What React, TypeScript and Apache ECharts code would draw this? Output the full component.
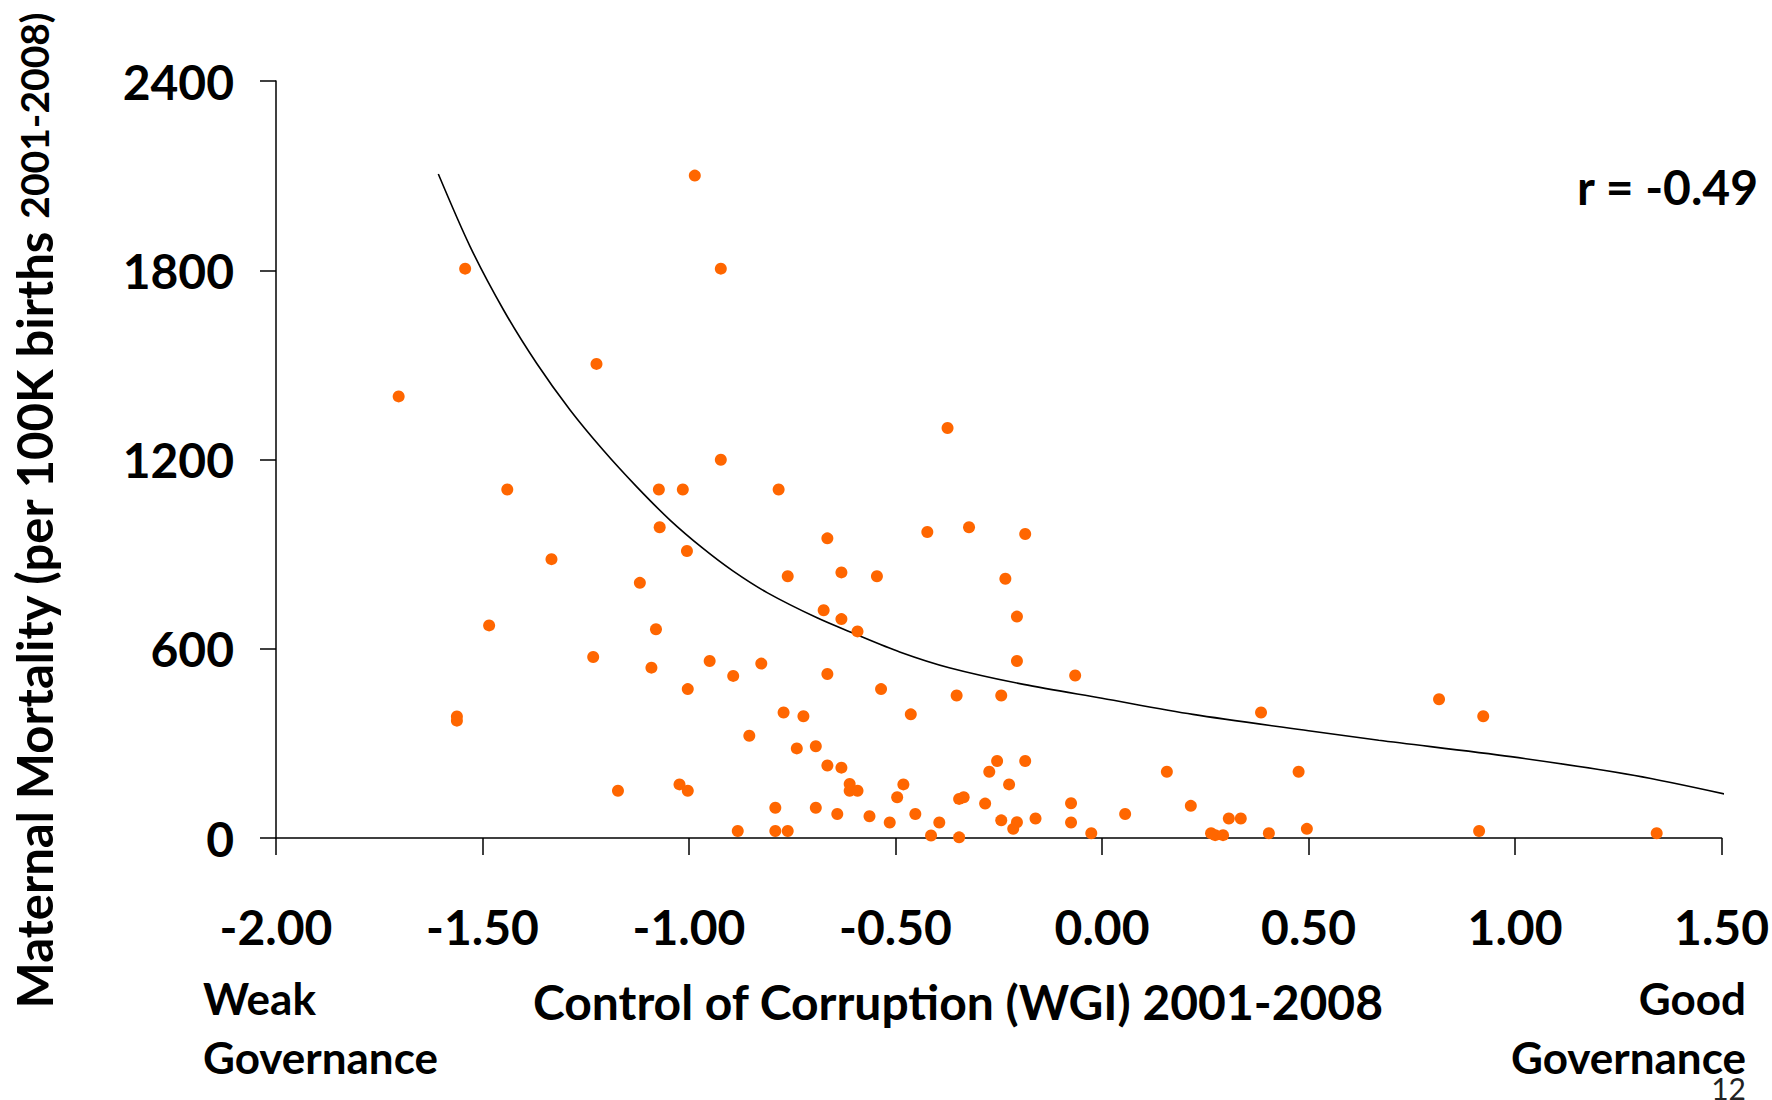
import React, { useEffect, useRef } from 'react';
import * as echarts from 'echarts';

// Control of Corruption (WGI) 2001-2008
const wgi = [
  -1.703, -1.542, -1.562, -1.562, -1.484, -1.44, -1.333, -1.224, -1.232, -1.172,
  -1.119, -1.091, -1.08, -1.073, -1.071, -1.023, -1.015, -1.003, -1.005, -1.003,
  -0.986, -0.95, -0.923, -0.923, -0.893, -0.882, -0.854, -0.825, -0.791, -0.791,
  -0.783, -0.771, -0.761, -0.761, -0.739, -0.723, -0.693, -0.693, -0.674, -0.665,
  -0.665, -0.665, -0.641, -0.631, -0.631, -0.631, -0.611, -0.611, -0.592, -0.592,
  -0.563, -0.545, -0.535, -0.514, -0.496, -0.481, -0.463, -0.452, -0.423, -0.414,
  -0.394, -0.374, -0.352, -0.346, -0.346, -0.335, -0.322, -0.283, -0.273, -0.254,
  -0.244, -0.244, -0.234, -0.225, -0.215, -0.206, -0.206, -0.206, -0.186, -0.186,
  -0.161, -0.075, -0.075, -0.065, -0.026, 0.056, 0.157, 0.215, 0.264, 0.274,
  0.293, 0.307, 0.336, 0.385, 0.404, 0.476, 0.496, 0.816, 0.923, 0.913, 1.343,
];
// Maternal mortality per 100K births 2001-2008
const mortality = [
  1400, 1805, 385, 372, 674, 1105, 884, 1503, 574, 150,
  809, 540, 662, 1105, 985, 170, 1105, 150, 910, 472,
  2100, 561, 1805, 1199, 514, 22, 324, 553, 96, 22,
  1105, 398, 830, 22, 284, 386, 291, 96, 722, 950,
  520, 230, 76, 842, 694, 223, 171, 150, 655, 150,
  69, 830, 472, 49, 129, 170, 392, 76, 970, 8,
  49, 1300, 452, 2, 124, 129, 985, 109, 210, 244,
  452, 56, 822, 170, 29, 50, 702, 561, 964, 244,
  62, 110, 49, 515, 15, 76, 210, 102, 15, 9,
  9, 62, 62, 398, 15, 210, 29, 440, 386, 22, 15,
];
// Fitted trend curve
const trendX = [-1.607, -1.53, -1.449, -1.369, -1.288, -1.208, -1.127, -1.046, -0.966, -0.893, -0.811, -0.69, -0.6, -0.49, -0.37, -0.19, 0.0, 0.22, 0.5, 0.67, 0.99, 1.29, 1.54];
const trendY = [2105, 1875, 1674, 1505, 1357, 1230, 1114, 1008, 918, 846, 778, 698, 648, 590, 540, 487, 443, 392, 340, 310, 258, 198, 130];

const xTicks = { min: -2, max: 1.5, interval: 0.5 };
const yTicks = { min: 0, max: 2400, interval: 600 };

const FONT = 'Lato, "Open Sans", sans-serif';

export default function App() {
  const ref = useRef<HTMLDivElement>(null);
  useEffect(() => {
    const chart = echarts.init(ref.current!, null, { renderer: 'svg' });
    const points = wgi.map((x, i) => [x, mortality[i]]);
    const trend = trendX.map((x, i) => [x, trendY[i]]);
    chart.setOption({
      animation: false,
      backgroundColor: '#ffffff',
      grid: { left: 276, top: 81, right: 50, bottom: 262, containLabel: false },
      xAxis: {
        type: 'value',
        min: xTicks.min,
        max: xTicks.max,
        interval: xTicks.interval,
        axisLine: { show: true, onZero: false, lineStyle: { color: '#000', width: 1.5 } },
        axisTick: { show: true, inside: false, length: 17, lineStyle: { color: '#000', width: 1.5 } },
        splitLine: { show: false },
        axisLabel: {
          margin: 64,
          color: '#000',
          fontFamily: FONT,
          fontWeight: 'bold',
          fontSize: 48,
          formatter: (v: number) => v.toFixed(2),
        },
      },
      yAxis: {
        type: 'value',
        min: yTicks.min,
        max: yTicks.max,
        interval: yTicks.interval,
        axisLine: { show: true, onZero: false, lineStyle: { color: '#000', width: 1.5 } },
        axisTick: { show: true, inside: false, length: 16, lineStyle: { color: '#000', width: 1.5 } },
        splitLine: { show: false },
        axisLabel: {
          margin: 42,
          color: '#000',
          fontFamily: FONT,
          fontWeight: 'bold',
          fontSize: 48,
          formatter: (v: number) => String(v),
        },
      },
      series: [
        {
          type: 'scatter',
          data: points,
          symbol: 'circle',
          symbolSize: 12,
          itemStyle: { color: '#FF6600', opacity: 1 },
          z: 3,
        },
        {
          type: 'line',
          data: trend,
          showSymbol: false,
          smooth: 0.3,
          lineStyle: { color: '#000', width: 1.6 },
          z: 2,
        },
      ],
      graphic: [
        {
          type: 'text',
          x: 34,
          y: 511,
          rotation: Math.PI / 2,
          style: {
            text: '{a|Maternal Mortality (per 100K births }{b|2001-2008)}',
            align: 'center',
            verticalAlign: 'middle',
            fill: '#000',
            rich: {
              a: { fontFamily: FONT, fontWeight: 'bold', fontSize: 49, fill: '#000' },
              b: { fontFamily: FONT, fontWeight: 'bold', fontSize: 39, fill: '#000' },
            },
          },
        },
        {
          type: 'text',
          x: 958,
          y: 1001,
          style: {
            text: 'Control of Corruption (WGI) 2001-2008',
            align: 'center',
            verticalAlign: 'middle',
            fontFamily: FONT,
            fontWeight: 'bold',
            fontSize: 48,
            fill: '#000',
          },
        },
        {
          type: 'text',
          x: 203,
          y: 998,
          style: { text: 'Weak', align: 'left', verticalAlign: 'middle', fontFamily: FONT, fontWeight: 'bold', fontSize: 44, fill: '#000' },
        },
        {
          type: 'text',
          x: 203,
          y: 1057,
          style: { text: 'Governance', align: 'left', verticalAlign: 'middle', fontFamily: FONT, fontWeight: 'bold', fontSize: 44, fill: '#000' },
        },
        {
          type: 'text',
          x: 1746,
          y: 998,
          style: { text: 'Good', align: 'right', verticalAlign: 'middle', fontFamily: FONT, fontWeight: 'bold', fontSize: 44, fill: '#000' },
        },
        {
          type: 'text',
          x: 1746,
          y: 1057,
          style: { text: 'Governance', align: 'right', verticalAlign: 'middle', fontFamily: FONT, fontWeight: 'bold', fontSize: 44, fill: '#000' },
        },
        {
          type: 'text',
          x: 1746,
          y: 1088,
          style: { text: '12', align: 'right', verticalAlign: 'middle', fontFamily: FONT, fontWeight: 'normal', fontSize: 30, fill: '#222' },
        },
        {
          type: 'text',
          x: 1758,
          y: 186,
          style: { text: 'r = -0.49', align: 'right', verticalAlign: 'middle', fontFamily: FONT, fontWeight: 'bold', fontSize: 48, fill: '#000' },
        },
      ],
    });
    return () => chart.dispose();
  }, []);
  return (
    <div
      ref={ref}
      style={{ position: 'fixed', left: 0, top: 0, width: 1772, height: 1100, background: '#fff' }}
    />
  );
}
